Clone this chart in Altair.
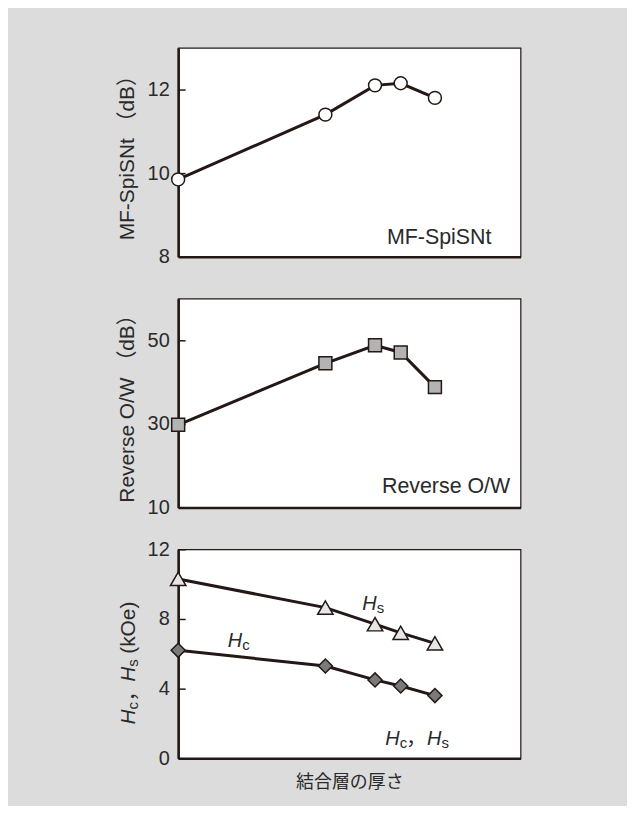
import altair as alt
import pandas as pd

# ---- data ----
thickness = [0, 4.3, 5.75, 6.5, 7.5]          # 結合層の厚さ (arbitrary units, unlabeled axis)
mf_spisnt = [9.85, 11.4, 12.1, 12.15, 11.8]   # dB
reverse_ow = [29.8, 44.5, 48.8, 47.1, 38.8]   # dB
hs_values = [10.3, 8.65, 7.7, 7.2, 6.6]       # kOe
hc_values = [6.2, 5.3, 4.5, 4.15, 3.6]        # kOe

x_domain = [0, 10]
mf_domain = [8, 13]
ow_domain = [10, 60]
h_domain = [0, 12]
mf_ticks = [8, 10, 12]
ow_ticks = [10, 30, 50]
h_ticks = [0, 4, 8, 12]

x_title = "結合層の厚さ"
mf_title = "MF-SpiSNt\u00a0（dB）"
ow_title = "Reverse O/W\u00a0（dB）"

# in-plot labels
mf_label = ["MF-SpiSNt"]
mf_label_x = [9.15]
mf_label_y = [8.45]
ow_label = ["Reverse O/W"]
ow_label_x = [9.7]
ow_label_y = [14.8]
h_label_x = [5.38, 1.45, 6.05, 7.27]
h_label_y = [8.53, 6.37, 0.74, 0.74]
h_label_sub = ["s", "c", "c", "s"]
comma_x = [6.66]
comma_y = [0.74]

INK = "#231815"
TXT = "#2a2a2a"
FONT = "Liberation Sans, Arial, Noto Sans CJK JP, sans-serif"
W, H = 344, 210

df = pd.DataFrame({"x": thickness, "mf": mf_spisnt, "ow": reverse_ow,
                   "hs": hs_values, "hc": hc_values})

xenc = alt.X("x:Q", scale=alt.Scale(domain=x_domain),
             axis=alt.Axis(labels=False, ticks=False, grid=False, title=None))


def yaxis(values, title):
    kw = dict(values=values, ticks=False, labelPadding=9, grid=True,
              gridDash=[7, 2000], gridColor=INK, gridWidth=1.5,
              titlePadding=10)
    if title is None:
        kw["title"] = None
    else:
        kw["title"] = title
    return alt.Axis(**kw)


def series(field, domain, ticks, title, shape, fill, size):
    base = alt.Chart(df).encode(
        x=xenc,
        y=alt.Y(f"{field}:Q", scale=alt.Scale(domain=domain, nice=False),
                axis=yaxis(ticks, title)),
    )
    line = base.mark_line(color=INK, strokeWidth=3)
    pts = base.mark_point(shape=shape, filled=True, fill=fill, stroke=INK,
                          strokeWidth=1.5, size=size, opacity=1)
    return line, pts


def label(texts, xs, ys, align="right"):
    d = pd.DataFrame({"t": texts, "x": xs, "y": ys})
    return alt.Chart(d).mark_text(align=align, baseline="middle", font=FONT,
                                  fontSize=21.5, color=TXT).encode(
        x=alt.X("x:Q", scale=alt.Scale(domain=x_domain)),
        y=alt.Y("y:Q"), text="t:N")


# ---- panel 1 ----
l1, p1 = series("mf", mf_domain, mf_ticks, mf_title, "circle", "white", 169)
panel1 = alt.layer(l1, p1, label(mf_label, mf_label_x, mf_label_y)).properties(width=W, height=H)

# ---- panel 2 ----
l2, p2 = series("ow", ow_domain, ow_ticks, ow_title, "square", "#b3b3b3", 169)
panel2 = alt.layer(l2, p2, label(ow_label, ow_label_x, ow_label_y)).properties(width=W, height=H)

# ---- panel 3 ----
hs_base = alt.Chart(df).encode(
    x=alt.X("x:Q", scale=alt.Scale(domain=x_domain),
            axis=alt.Axis(labels=False, ticks=False, grid=False, title=x_title,
                          titleFontSize=18, titlePadding=15)),
    y=alt.Y("hs:Q", scale=alt.Scale(domain=h_domain, nice=False), axis=yaxis(h_ticks, None)),
)
hc_base = alt.Chart(df).encode(
    x=alt.X("x:Q", scale=alt.Scale(domain=x_domain)),
    y=alt.Y("hc:Q", scale=alt.Scale(domain=h_domain, nice=False)),
)
hs_line = hs_base.mark_line(color=INK, strokeWidth=3)
hs_pts = hs_base.mark_point(shape="triangle-up", filled=True, fill="#e6e6e6", stroke=INK,
                            strokeWidth=1.5, size=240, opacity=1)
hc_line = hc_base.mark_line(color=INK, strokeWidth=3)
hc_pts = hc_base.mark_point(shape="diamond", filled=True, fill="#7a7a7a", stroke=INK,
                            strokeWidth=1.5, size=200, opacity=1)

hdf = pd.DataFrame({"x": h_label_x, "y": h_label_y, "sub": h_label_sub, "H": ["H"] * 4})
h_enc = dict(x=alt.X("x:Q", scale=alt.Scale(domain=x_domain)), y=alt.Y("y:Q"))
h_main = alt.Chart(hdf).mark_text(align="left", baseline="alphabetic", font=FONT,
                                  fontSize=20, fontStyle="italic", color=TXT).encode(text="H:N", **h_enc)
h_sub = alt.Chart(hdf).mark_text(align="left", baseline="alphabetic", font=FONT,
                                 fontSize=15, color=TXT, dx=14.5, dy=3).encode(text="sub:N", **h_enc)
cdf = pd.DataFrame({"x": comma_x, "y": comma_y, "t": ["，"]})
h_comma = alt.Chart(cdf).mark_text(align="left", baseline="alphabetic", font=FONT,
                                   fontSize=20, color=TXT).encode(text="t:N", **h_enc)


def ytitle_piece(text, xpx, ypx, size=21, italic=False):
    d = pd.DataFrame({"t": [text]})
    kw = dict(align="left", baseline="alphabetic", font=FONT, fontSize=size,
              color=TXT, angle=270)
    if italic:
        kw["fontStyle"] = "italic"
    return alt.Chart(d).mark_text(**kw).encode(
        text="t:N", x=alt.value(xpx), y=alt.value(ypx))


ytitle3 = [
    ytitle_piece("H", -43, 176, italic=True),
    ytitle_piece("c", -40, 161, size=15),
    ytitle_piece("，", -43, 153),
    ytitle_piece("H", -43, 133, italic=True),
    ytitle_piece("s", -40, 118, size=15),
    ytitle_piece("(kOe)", -43, 105),
]

panel3 = alt.layer(hs_line, hc_line, hs_pts, hc_pts, h_main, h_sub, h_comma, *ytitle3).properties(
    width=W, height=H)

chart = alt.vconcat(panel1, panel2, panel3, spacing=42, bounds="flush").properties(
    background="#dcdcdc",
    padding={"left": 108, "top": 37, "right": 106, "bottom": 12},
).configure_view(
    fill="white", stroke=INK, strokeWidth=1.2
).configure_axis(
    labelFont=FONT, labelFontSize=20, labelColor=TXT,
    titleFont=FONT, titleFontSize=21, titleFontWeight="normal", titleColor=TXT,
    domainColor=INK, domainWidth=2.6,
)

chart.save("out.html", embed_options={"renderer": "svg", "actions": False})
